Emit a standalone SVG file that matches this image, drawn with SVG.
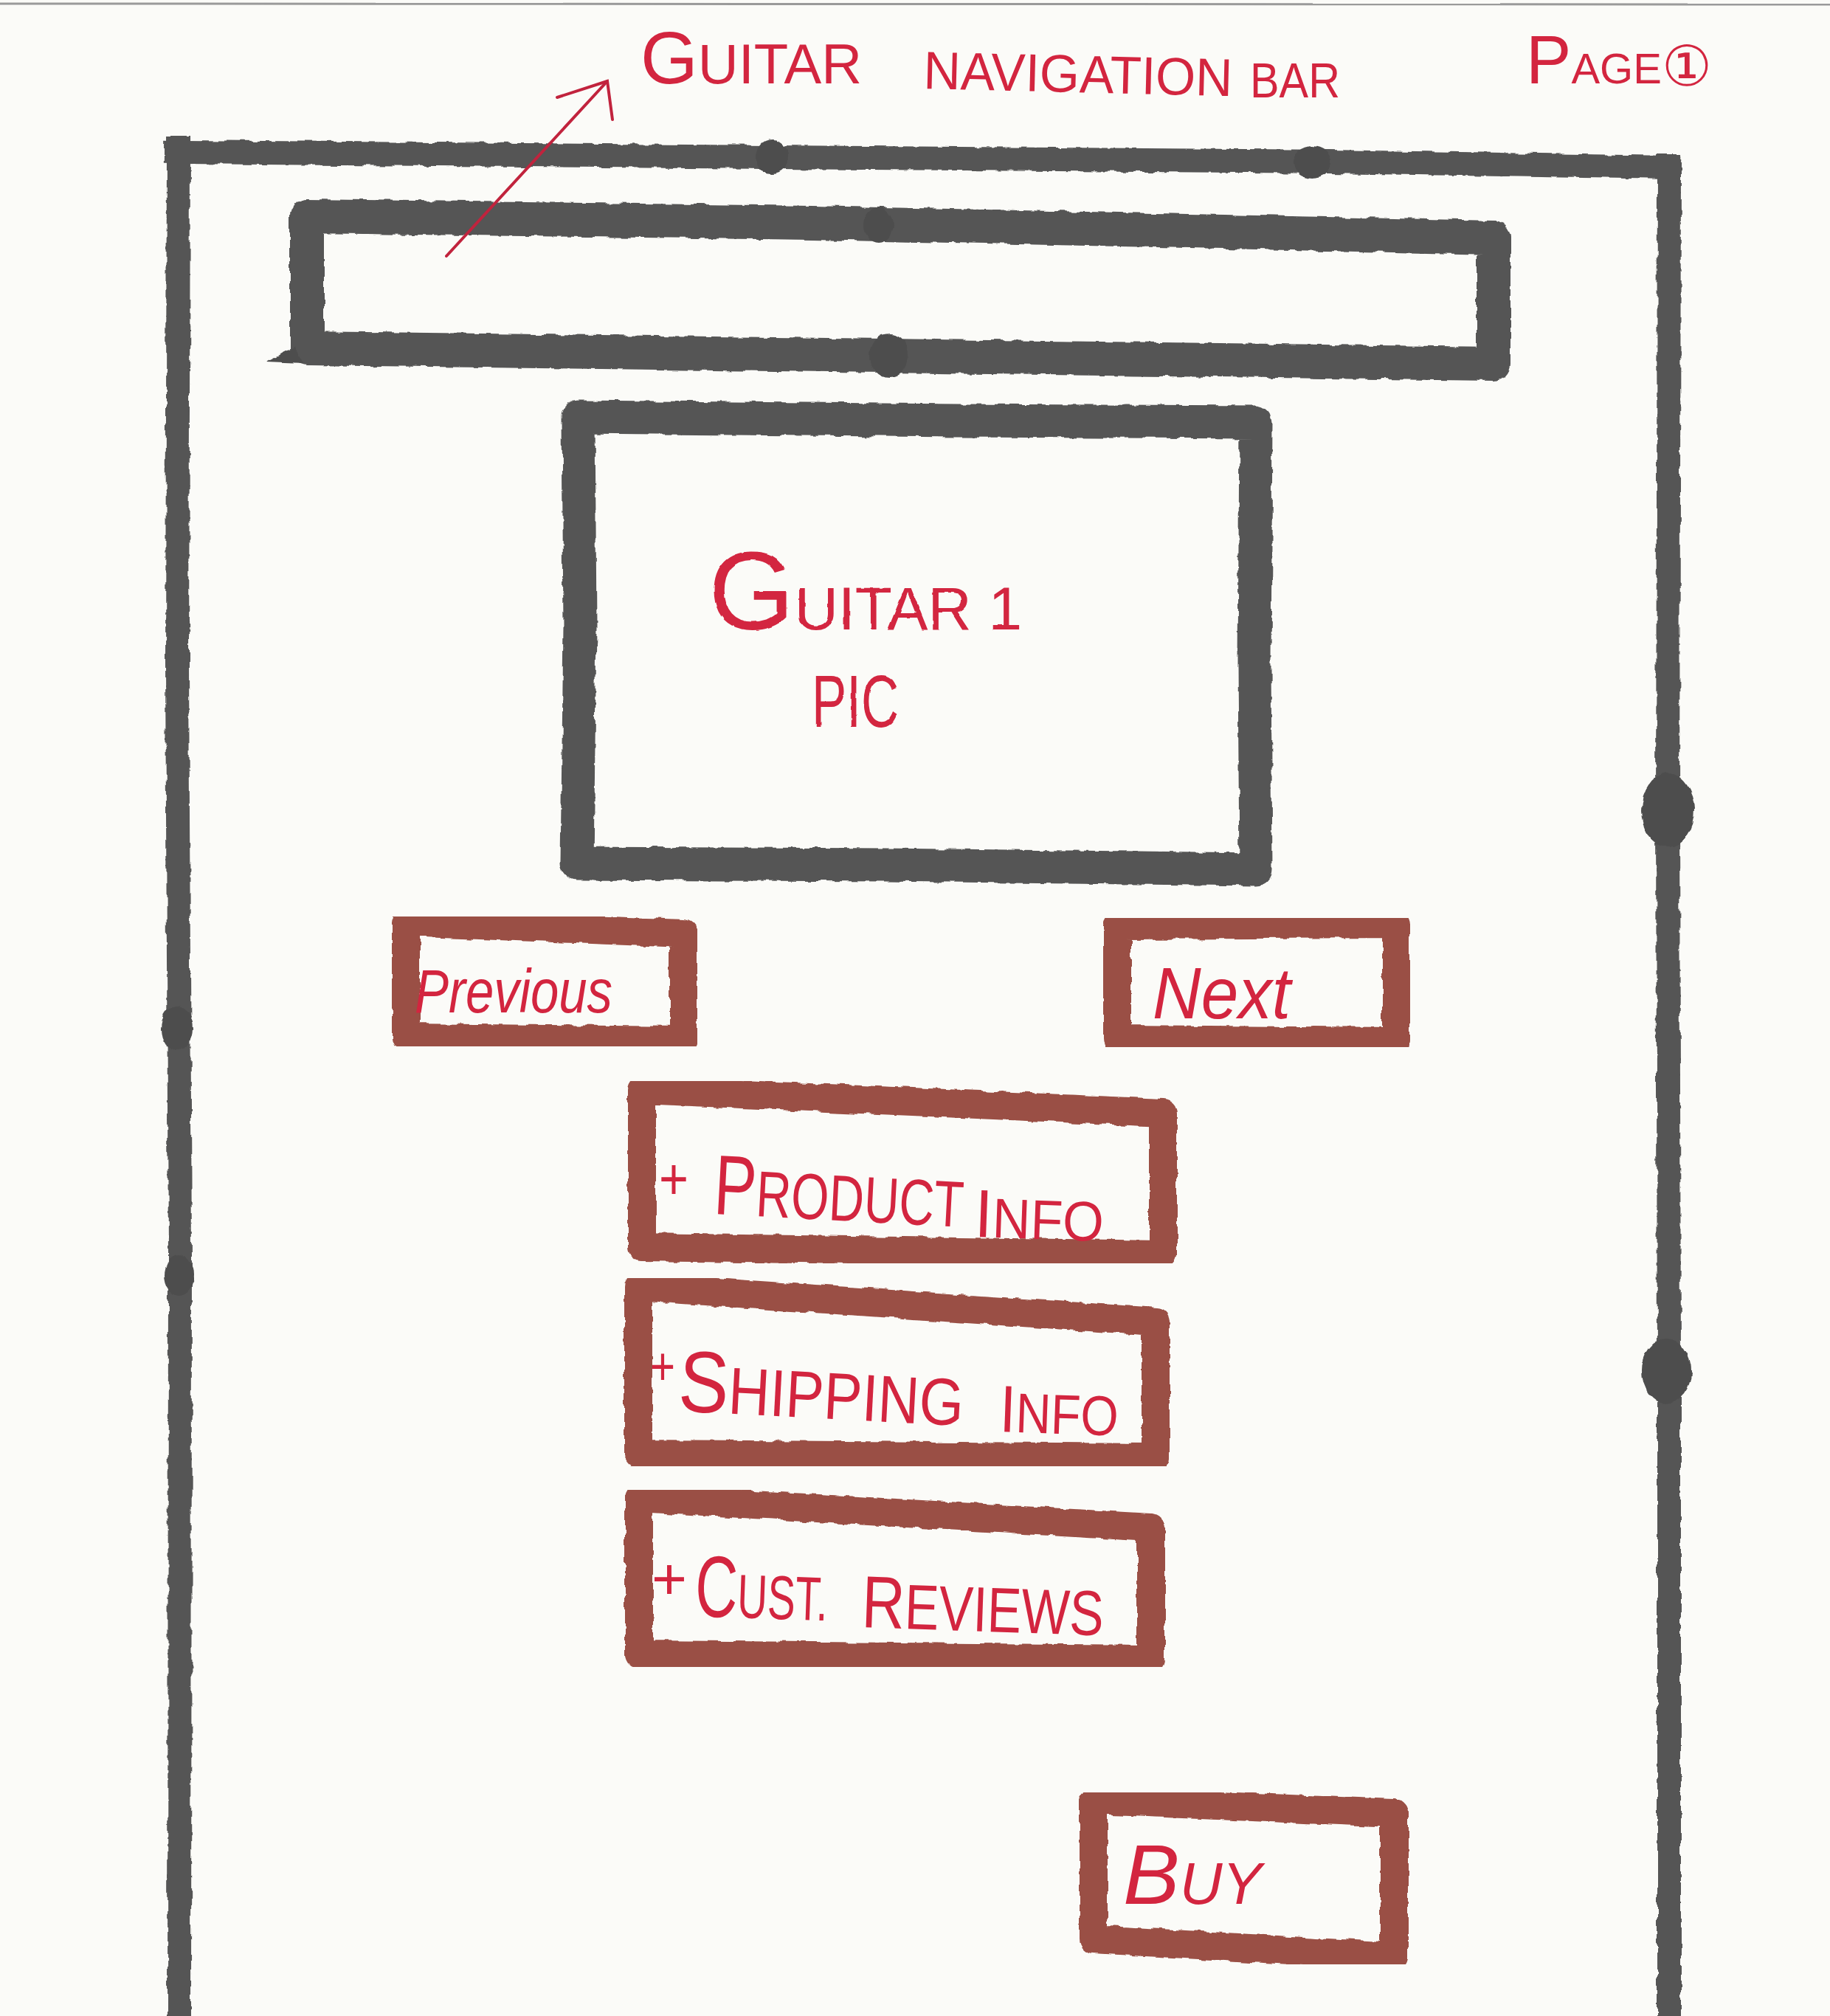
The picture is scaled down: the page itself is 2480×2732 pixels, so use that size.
<svg xmlns="http://www.w3.org/2000/svg" width="2480" height="2732" viewBox="0 0 2480 2732">
  <defs>
    <!-- marker ink: slightly ragged edges -->
    <filter id="ink" x="-5%" y="-5%" width="110%" height="110%">
      <feTurbulence type="fractalNoise" baseFrequency="0.06" numOctaves="2" seed="3" result="n"/>
      <feDisplacementMap in="SourceGraphic" in2="n" scale="7" xChannelSelector="R" yChannelSelector="G"/>
    </filter>
    <filter id="pen" x="-5%" y="-5%" width="110%" height="110%">
      <feTurbulence type="fractalNoise" baseFrequency="0.08" numOctaves="1" seed="7" result="n"/>
      <feDisplacementMap in="SourceGraphic" in2="n" scale="3" xChannelSelector="R" yChannelSelector="G"/>
    </filter>
  </defs>
  <style>
    .gray { fill: none; stroke: #555555; stroke-linejoin: round; stroke-linecap: square; }
    .brown { fill: none; stroke: #9a5045; stroke-width: 38; stroke-linejoin: round; stroke-linecap: square; }
    .blob { fill: #4e4e4e; }
    .lbl { fill: #d3253f; font-family: "Liberation Sans", "DejaVu Sans", sans-serif; }
    .it { font-style: italic; }
    .arrow { fill: none; stroke: #c1233d; stroke-width: 4; stroke-linecap: round; }
  </style>

  <!-- paper -->
  <rect x="0" y="0" width="2480" height="2732" fill="#fbfbf8"/>
  <line x1="0" y1="5" x2="2480" y2="6" stroke="#9a9a9a" stroke-width="3"/>

  <!-- page frame -->
  <g id="page-frame" filter="url(#ink)">
    <path class="gray" stroke-width="32" d="M 242,200 L 240,900 L 244,1700 L 243,2740"/>
    <path class="gray" stroke-width="32" d="M 238,206 L 1050,213 L 1800,219 L 2262,227"/>
    <path class="gray" stroke-width="32" d="M 2262,224 L 2260,1100 L 2262,1850 L 2262,2740"/>
    <ellipse class="blob" cx="1046" cy="212" rx="22" ry="24"/>
    <ellipse class="blob" cx="1778" cy="220" rx="26" ry="22"/>
    <ellipse class="blob" cx="2260" cy="1098" rx="36" ry="50"/>
    <ellipse class="blob" cx="2258" cy="1858" rx="34" ry="44"/>
    <ellipse class="blob" cx="240" cy="1394" rx="22" ry="30"/>
    <ellipse class="blob" cx="242" cy="1728" rx="20" ry="28"/>
  </g>

  <!-- navigation bar -->
  <g id="nav-bar" filter="url(#ink)">
    <path class="gray" stroke-width="46" d="M 416,293 L 1100,302 L 2024,322 L 2024,493 L 1200,482 L 416,472 Z"/>
    <ellipse class="blob" cx="1205" cy="482" rx="26" ry="30"/>
    <ellipse class="blob" cx="1190" cy="305" rx="20" ry="24"/>
    <path class="blob" d="M 400,470 L 360,490 L 410,492 Z"/>
  </g>

  <!-- guitar picture placeholder -->
  <g id="guitar-pic">
    <path class="gray" stroke-width="45" filter="url(#ink)" d="M 784,565 L 1300,570 L 1702,572 L 1700,900 L 1702,1178 L 1200,1172 L 782,1170 L 786,850 Z"/>
    <text class="lbl" x="960" y="853" filter="url(#pen)"><tspan font-size="150">G</tspan><tspan font-size="82">UITAR 1</tspan></text>
    <text class="lbl" x="1100" y="985" font-size="100" textLength="118" lengthAdjust="spacingAndGlyphs" filter="url(#pen)">PIC</text>
  </g>

  <!-- previous button -->
  <g id="btn-previous">
    <path class="brown" filter="url(#ink)" d="M 550,1250 L 926,1265 L 926,1410 L 550,1406 Z"/>
    <text class="lbl it" x="562" y="1372" font-size="84" textLength="268" lengthAdjust="spacingAndGlyphs">Previous</text>
  </g>

  <!-- next button -->
  <g id="btn-next">
    <path class="brown" filter="url(#ink)" d="M 1514,1254 L 1892,1252 L 1892,1411 L 1514,1408 Z"/>
    <text class="lbl it" x="1562" y="1380" font-size="98" textLength="187" lengthAdjust="spacingAndGlyphs">Next</text>
  </g>

  <!-- product info -->
  <g id="btn-product-info">
    <path class="brown" filter="url(#ink)" d="M 870,1477 L 1576,1508 L 1576,1700 L 870,1690 Z"/>
    <text class="lbl" x="893" y="1625" font-size="80" textLength="40" lengthAdjust="spacingAndGlyphs">+</text>
    <text class="lbl" x="966" y="1645" textLength="339" lengthAdjust="spacingAndGlyphs" transform="rotate(3 966 1645)"><tspan font-size="115">P</tspan><tspan font-size="88">RODUCT</tspan></text>
    <text class="lbl" x="1320" y="1676" textLength="175" lengthAdjust="spacingAndGlyphs" transform="rotate(2 1320 1676)"><tspan font-size="92">I</tspan><tspan font-size="76">NFO</tspan></text>
  </g>

  <!-- shipping info -->
  <g id="btn-shipping-info">
    <path class="brown" filter="url(#ink)" d="M 865,1744 L 1566,1791 L 1566,1975 L 865,1970 Z"/>
    <text class="lbl" x="881" y="1876" font-size="72" textLength="34" lengthAdjust="spacingAndGlyphs">+</text>
    <text class="lbl" x="918" y="1912" textLength="387" lengthAdjust="spacingAndGlyphs" transform="rotate(3 918 1912)"><tspan font-size="118">S</tspan><tspan font-size="90">HIPPING</tspan></text>
    <text class="lbl" x="1354" y="1940" textLength="161" lengthAdjust="spacingAndGlyphs" transform="rotate(2 1354 1940)"><tspan font-size="90">I</tspan><tspan font-size="76">NFO</tspan></text>
  </g>

  <!-- customer reviews -->
  <g id="btn-cust-reviews">
    <path class="brown" filter="url(#ink)" d="M 866,2030 L 1560,2070 L 1560,2248 L 866,2242 Z"/>
    <text class="lbl" x="883" y="2167" font-size="80" textLength="48" lengthAdjust="spacingAndGlyphs">+</text>
    <text class="lbl" x="941" y="2190" textLength="180" lengthAdjust="spacingAndGlyphs" transform="rotate(2 941 2190)"><tspan font-size="118">C</tspan><tspan font-size="84">UST.</tspan></text>
    <text class="lbl" x="1167" y="2205" textLength="328" lengthAdjust="spacingAndGlyphs" transform="rotate(2 1167 2205)"><tspan font-size="100">R</tspan><tspan font-size="86">EVIEWS</tspan></text>
  </g>

  <!-- buy button -->
  <g id="btn-buy">
    <path class="brown" filter="url(#ink)" d="M 1482,2440 L 1889,2457 L 1889,2651 L 1482,2628 Z"/>
    <text class="lbl it" x="1522" y="2580"><tspan font-size="115">B</tspan><tspan font-size="80">UY</tspan></text>
  </g>

  <!-- page heading -->
  <g id="page-label">
    <text class="lbl" x="2068" y="113"><tspan font-size="92">P</tspan><tspan font-size="58">AGE</tspan></text>
    <text class="lbl" x="2252" y="116" font-size="76" style="font-family: 'DejaVu Sans', sans-serif">①</text>
  </g>

  <!-- callout label for the navigation bar -->
  <g id="nav-bar-label">
    <text class="lbl" x="868" y="113"><tspan font-size="100">G</tspan><tspan font-size="76">UITAR</tspan></text>
    <text class="lbl" x="1251" y="120" font-size="72" textLength="419" lengthAdjust="spacingAndGlyphs" transform="rotate(1.4 1251 120)">NAVIGATION</text>
    <text class="lbl" x="1694" y="132" font-size="66" textLength="122" lengthAdjust="spacingAndGlyphs">BAR</text>
  </g>

  <!-- connectors -->
  <g id="connectors">
    <path class="arrow" d="M 605,347 L 823,110"/>
    <path class="arrow" d="M 755,132 L 823,110 L 830,162"/>
  </g>
</svg>
